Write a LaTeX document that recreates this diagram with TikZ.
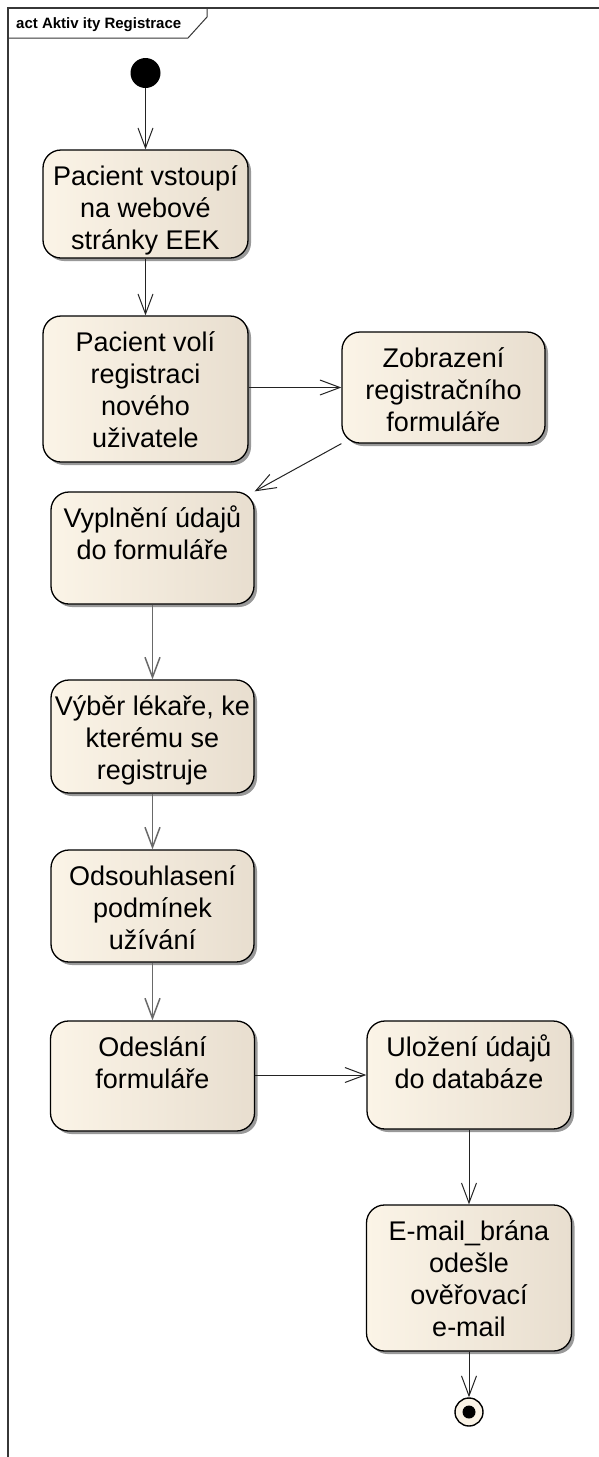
\documentclass[tikz,border=0pt]{standalone}
\usepackage{fontspec}
\setmainfont{Liberation Sans}
\usetikzlibrary{arrows.meta,shadows}

\definecolor{boxL}{RGB}{251,244,231}
\definecolor{boxR}{RGB}{232,222,207}
\definecolor{framec}{RGB}{55,55,55}
\definecolor{edgec}{RGB}{35,35,35}
\definecolor{edgeg}{RGB}{105,105,105}
\definecolor{ringc}{RGB}{250,243,230}

% centred block of lines, reference point on the first baseline
\newcommand{\boxlines}[1]{\parbox[t]{220pt}{\centering #1}}

\begin{document}
\begin{tikzpicture}[x=1pt,y=1pt,
  actbox/.style={draw=black, line width=1.3pt, rounded corners=18pt,
    left color=boxL, right color=boxR, inner sep=0pt,
    drop shadow={shadow xshift=3pt, shadow yshift=-3pt, opacity=0.4, fill=black}},
  acttext/.style={anchor=base, inner sep=0pt, font=\fontsize{27}{32}\selectfont},
  edge/.style={draw=edgec, line width=1pt, -{Straight Barb[length=20pt,width=15pt]}},
  edgegray/.style={edge, draw=edgeg, line width=1.5pt},
  framestyle/.style={draw=framec, line width=1.6pt},
  hdrstyle/.style={draw=framec, line width=1pt}
]
\useasboundingbox (0,0) rectangle (599,-1457);
\fill[white] (0,0) rectangle (599,-1457);

% diagram frame and its name tab
\draw[framestyle] (8,-1460) -- (8,-8) -- (602,-8);
\draw[hdrstyle] (8,-38) -- (188,-38) -- (207,-17) -- (207,-8);
\node[anchor=base west, inner sep=0pt, font=\fontsize{15}{18}\selectfont\bfseries] (hdr) at (16,-28) {act Aktiv ity Registrace};

% initial node
\node[circle, fill=black, minimum size=30pt, inner sep=0pt] (start) at (145.5,-73) {};

% actions
\node[actbox, minimum width=205pt, minimum height=108pt] (n1) at (145.5,-204) {};
\node[acttext] (n1t) at ([yshift=-36pt]n1.north) {\boxlines{Pacient vstoupí\\na webové\\stránky EEK}};

\node[actbox, minimum width=205pt, minimum height=146pt] (n2) at (145.5,-389) {};
\node[acttext] (n2t) at ([yshift=-36pt]n2.north) {\boxlines{Pacient volí\\registraci\\nového\\uživatele}};

\node[actbox, minimum width=203pt, minimum height=111pt] (n3) at (443.5,-387.5) {};
\node[acttext] (n3t) at ([yshift=-36pt]n3.north) {\boxlines{Zobrazení\\registračního\\formuláře}};

\node[actbox, minimum width=203pt, minimum height=112pt] (n4) at (152.5,-548) {};
\node[acttext] (n4t) at ([yshift=-36pt]n4.north) {\boxlines{Vyplnění údajů\\do formuláře}};

\node[actbox, minimum width=203pt, minimum height=113pt] (n5) at (152.5,-736.5) {};
\node[acttext] (n5t) at ([yshift=-36pt]n5.north) {\boxlines{Výběr lékaře, ke\\kterému se\\registruje}};

\node[actbox, minimum width=203pt, minimum height=112pt] (n6) at (152.5,-906) {};
\node[acttext] (n6t) at ([yshift=-36pt]n6.north) {\boxlines{Odsouhlasení\\podmínek\\užívání}};

\node[actbox, minimum width=204pt, minimum height=110pt] (n7) at (152.5,-1076) {};
\node[acttext] (n7t) at ([yshift=-36pt]n7.north) {\boxlines{Odeslání\\formuláře}};

\node[actbox, minimum width=204pt, minimum height=108pt] (n8) at (469,-1075) {};
\node[acttext] (n8t) at ([yshift=-36pt]n8.north) {\boxlines{Uložení údajů\\do databáze}};

\node[actbox, minimum width=205pt, minimum height=146pt] (n9) at (469,-1278) {};
\node[acttext] (n9t) at ([yshift=-36pt]n9.north) {\boxlines{E-mail\_brána\\odešle\\ověřovací\\e-mail}};

% final node
\node[circle, draw=black, line width=1.4pt, fill=ringc, minimum size=28pt, inner sep=0pt] (fin) at (469,-1412) {};
\node[circle, fill=black, minimum size=13pt, inner sep=0pt] (findot) at (fin.center) {};

% control flows
\draw[edge] (start) -- (n1.north);
\draw[edge] (n1.south) -- (n2.north);
\draw[edge] (n2.east |- n3.west) -- (n3.west);
\draw[edge] (n3.south west) -- (n4.north east);
\draw[edgegray] (n4.south) -- (n5.north);
\draw[edgegray] (n5.south) -- (n6.north);
\draw[edgegray] (n6.south) -- (n7.north);
\draw[edge] (n7.east |- n8.west) -- (n8.west);
\draw[edge] (n8.south) -- (n9.north);
\draw[edge] (n9.south) -- (fin.north);
\end{tikzpicture}
\end{document}
